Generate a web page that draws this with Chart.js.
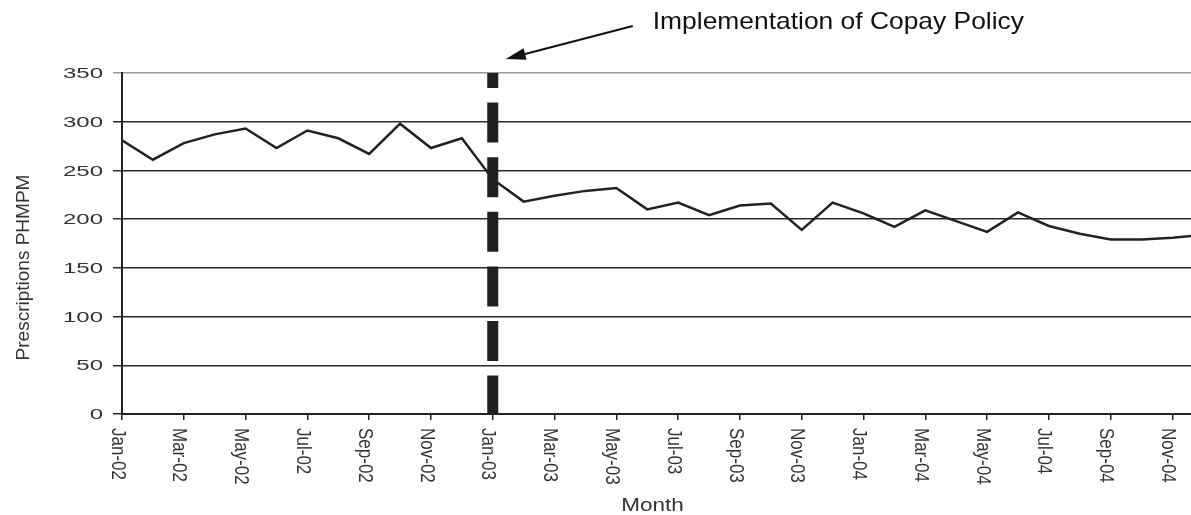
<!DOCTYPE html>
<html>
<head>
<meta charset="utf-8">
<script src="https://cdn.jsdelivr.net/npm/chart.js@4"></script>
<style>
  html, body { margin: 0; padding: 0; background: #fff; }
  #wrap { width: 1191px; height: 515px; }
</style>
</head>
<body>
<div id="wrap"><canvas id="chartCanvas" width="1191" height="515"></canvas></div>
<script>
// monthly prescriptions per head (PHMPM), Jan-02 .. Dec-04
const months = [
  'Jan-02','Feb-02','Mar-02','Apr-02','May-02','Jun-02','Jul-02','Aug-02','Sep-02','Oct-02','Nov-02','Dec-02',
  'Jan-03','Feb-03','Mar-03','Apr-03','May-03','Jun-03','Jul-03','Aug-03','Sep-03','Oct-03','Nov-03','Dec-03',
  'Jan-04','Feb-04','Mar-04','Apr-04','May-04','Jun-04','Jul-04','Aug-04','Sep-04','Oct-04','Nov-04','Dec-04'
];
const phmpm = [
  281, 261, 278, 287, 293, 273, 291, 283, 267, 298, 273, 283,
  241, 218, 224, 229, 232, 210, 217, 204, 214, 216, 189, 217,
  206, 192, 209, 198, 187, 207, 193, 185, 179, 179, 181, 184
];
const policyMonth = 'Jan-03';
const policyText = 'Implementation of Copay Policy';
const yTitle = 'Prescriptions PHMPM';
const xTitle = 'Month';

const FONT = '"Liberation Sans", Arial, sans-serif';

// draw text with its own rotation and stretch
function stretchText(ctx, text, x, y, angle, sx, sy, align) {
    ctx.save();
    ctx.translate(x, y);
    ctx.rotate(angle);
    ctx.scale(sx, sy);
    ctx.textAlign = align;
    ctx.fillText(text, 0, 0);
    ctx.restore();
}

const axisText = {
    id: 'axisText',
    afterDraw(chart) {
        const ctx = chart.ctx;
        const xs = chart.scales.x, ys = chart.scales.y;
        const area = chart.chartArea;
        ctx.save();
        ctx.fillStyle = '#333';
        ctx.textBaseline = 'middle';

        // y tick labels (wide, as in the scan)
        ctx.font = '15px ' + FONT;
        ys.ticks.forEach(t => {
            stretchText(ctx, String(t.value), area.left - 19, ys.getPixelForValue(t.value) + 1, 0, 1.6, 1, 'right');
        });

        // x tick labels, turned clockwise
        ctx.font = '17px ' + FONT;
        xs.ticks.forEach(t => {
            const label = months[t.value];
            if (!label) return;
            stretchText(ctx, label, xs.getPixelForValue(t.value) - 5, area.bottom + 14, Math.PI / 2, 1, 1.15, 'left');
        });

        // axis titles
        ctx.font = '19px ' + FONT;
        stretchText(ctx, yTitle, 24, (area.top + area.bottom) / 2 + 24, -Math.PI / 2, 1, 1, 'center');
        ctx.font = '18px ' + FONT;
        ctx.textBaseline = 'alphabetic';
        stretchText(ctx, xTitle, (area.left + area.right) / 2 - 4, 511, 0, 1.25, 1, 'center');
        ctx.restore();
    }
};

const policyLine = {
    id: 'policyLine',
    afterDatasetsDraw(chart) {
        const ctx = chart.ctx;
        const area = chart.chartArea;
        const px = chart.scales.x.getPixelForValue(months.indexOf(policyMonth));
        ctx.save();
        // thick dashed marker
        ctx.strokeStyle = '#231f20';
        ctx.lineWidth = 11;
        ctx.setLineDash([40, 14.6]);
        ctx.lineDashOffset = 25;
        ctx.beginPath();
        ctx.moveTo(px, area.top);
        ctx.lineTo(px, area.bottom);
        ctx.stroke();
        ctx.setLineDash([]);

        // arrow pointing at the marker
        const tipX = px + 13, tipY = area.top - 14;
        const tailX = px + 140, tailY = area.top - 47;
        const ang = Math.atan2(tailY - tipY, tailX - tipX);
        ctx.strokeStyle = '#111';
        ctx.fillStyle = '#111';
        ctx.lineWidth = 2;
        ctx.beginPath();
        ctx.moveTo(tailX, tailY);
        ctx.lineTo(tipX + Math.cos(ang) * 14, tipY + Math.sin(ang) * 14);
        ctx.stroke();
        ctx.beginPath();
        ctx.moveTo(tipX, tipY);
        ctx.lineTo(tipX + Math.cos(ang) * 20 - Math.sin(ang) * 6, tipY + Math.sin(ang) * 20 + Math.cos(ang) * 6);
        ctx.lineTo(tipX + Math.cos(ang) * 20 + Math.sin(ang) * 6, tipY + Math.sin(ang) * 20 - Math.cos(ang) * 6);
        ctx.closePath();
        ctx.fill();

        ctx.font = '24px ' + FONT;
        ctx.textBaseline = 'alphabetic';
        stretchText(ctx, policyText, px + 160, 29, 0, 1.1, 1, 'left');
        ctx.restore();
    }
};

const ctx = document.getElementById('chartCanvas').getContext('2d');
const chart = new Chart(ctx, {
    type: 'line',
    data: {
        datasets: [{
            label: yTitle,
            data: phmpm.map((v, i) => ({ x: i, y: v })),
            borderColor: '#222',
            borderWidth: 2.5,
            pointRadius: 0,
            tension: 0,
            fill: false
        }]
    },
    options: {
        responsive: false,
        animation: false,
        layout: { padding: { top: 73, right: 0, bottom: 0, left: 0 } },
        plugins: {
            legend: { display: false },
            tooltip: { enabled: false }
        },
        scales: {
            x: {
                type: 'linear',
                min: 0,
                max: 34.6,
                afterFit: s => { s.height = 101; },
                ticks: { stepSize: 2, includeBounds: false, display: false },
                grid: { drawOnChartArea: false, drawTicks: true, tickLength: 6, color: '#222', lineWidth: 1.5 },
                border: { color: '#222', width: 2 }
            },
            y: {
                min: 0,
                max: 350,
                afterFit: s => { s.width = 122; },
                ticks: { stepSize: 50, display: false },
                grid: {
                    color: c => (c.tick && c.tick.value === 350 ? '#999' : '#2a2a2a'),
                    lineWidth: 1.5,
                    drawTicks: true,
                    tickLength: 9
                },
                border: { color: '#222', width: 2 }
            }
        }
    },
    plugins: [policyLine, axisText]
});
</script>
</body>
</html>
